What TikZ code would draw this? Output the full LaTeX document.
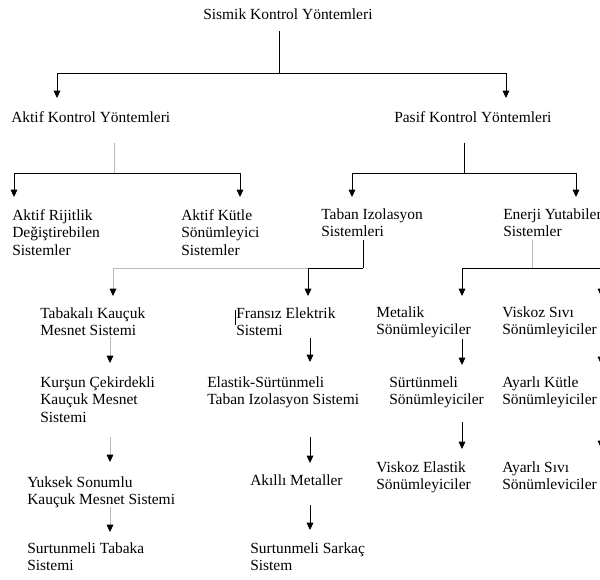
\documentclass[tikz,border=0pt]{standalone}
\usepackage{fontspec}
\setmainfont{Liberation Serif}
\usetikzlibrary{arrows.meta}

\tikzset{
	lbl/.style={inner sep=0pt, anchor=base west, align=left, font=\fontsize{11.6}{13.1}\selectfont},
	lnk/.style={line width=0.6pt},
	arr/.style={lnk, -{Triangle[width=5pt,length=5.5pt,color=black]}},
	faint/.style={draw=gray!55},
}

\begin{document}
\begin{tikzpicture}[x=0.75pt,y=0.75pt,yscale=-1,xscale=1]
	\useasboundingbox (0,0) rectangle (600,579);
	\clip (0,0) rectangle (600,579);
	
	% Text Node (placed at the baseline of the last line)
	\node[lbl] (sismik) at (203,19) {Sismik Kontrol Yöntemleri};
	% Text Node
	\node[lbl] (aktif) at (11,122) {Aktif Kontrol Yöntemleri};
	\node[lbl] (pasif) at (394,122) {Pasif Kontrol Yöntemleri};
	% Text Node
	\node[lbl] (rijit) at (12,255) {Aktif Rijitlik\\Değiştirebilen\\Sistemler};
	\node[lbl] (kutle) at (181,255) {Aktif Kütle\\Sönümleyici\\Sistemler};
	\node[lbl] (taban) at (321,236.5) {Taban Izolasyon\\Sistemleri};
	\node[lbl] (enerji) at (503,236.5) {Enerji Yutabilen\\Sistemler};
	% Text Node
	\node[lbl] (tabakali) at (40,335.5) {Tabakalı Kauçuk\\Mesnet Sistemi};
	\node[lbl] (kursun) at (40,422) {Kurşun Çekirdekli\\Kauçuk Mesnet\\Sistemi};
	\node[lbl] (yuksek) at (27,504.5) {Yuksek Sonumlu\\Kauçuk Mesnet Sistemi};
	\node[lbl] (tabaka) at (27,570.5) {Surtunmeli Tabaka\\Sistemi};
	% Text Node
	\node[lbl] (fransiz) at (236,335.5) {Fransız Elektrik\\Sistemi};
	\node[lbl] (elastik) at (207,404.5) {Elastik-Sürtünmeli\\Taban Izolasyon Sistemi};
	\node[lbl] (akilli) at (250,485) {Akıllı Metaller};
	\node[lbl] (sarkac) at (250,570.5) {Surtunmeli Sarkaç\\Sistem};
	% Text Node
	\node[lbl] (metalik) at (376,334.5) {Metalik\\Sönümleyiciler};
	\node[lbl] (surtunme) at (389,404.5) {Sürtünmeli\\Sönümleyiciler};
	\node[lbl] (viselastik) at (376,489.5) {Viskoz Elastik\\Sönümleyiciler};
	\node[lbl] (vissivi) at (502,334.5) {Viskoz Sıvı\\Sönümleyiciler};
	\node[lbl] (ayarkutle) at (502,404.5) {Ayarlı Kütle\\Sönümleyiciler};
	\node[lbl] (ayarsivi) at (502,489.5) {Ayarlı Sıvı\\Sönümleviciler};
	
	% Junctions and arrow tips
	\coordinate (s-split) at (279,73);
	\coordinate (aktif-in) at (57,98);
	\coordinate (pasif-in) at (506,98);
	\coordinate (a-split) at (114,173);
	\coordinate (rijit-in) at (14,197);
	\coordinate (kutle-in) at (240,197);
	\coordinate (p-split) at (464,173);
	\coordinate (taban-in) at (352,197);
	\coordinate (enerji-in) at (576,197);
	\coordinate (t-split) at (363,268);
	\coordinate (tabakali-in) at (113,296);
	\coordinate (fransiz-in) at (308,296);
	\coordinate (e-split) at (532,268);
	\coordinate (metalik-in) at (462,296);
	\coordinate (vissivi-in) at (601,296);
	\coordinate (kursun-in) at (110,363);
	\coordinate (yuksek-in) at (110,462);
	\coordinate (tabaka-in) at (110,532);
	\coordinate (elastik-in) at (310,362);
	\coordinate (akilli-in) at (310,463);
	\coordinate (sarkac-in) at (310,530);
	\coordinate (surtunme-in) at (462,365);
	\coordinate (viselastik-in) at (462,449);
	\coordinate (ayarkutle-in) at (601,364);
	\coordinate (ayarsivi-in) at (601,448);
	
	%Straight Lines
	\draw[lnk,shorten <=9pt] (sismik.base -| s-split) -- (s-split);
	\draw[arr] (s-split) -| (aktif-in);
	\draw[arr] (s-split) -| (pasif-in);
	\draw[lnk,faint,shorten <=15.5pt] (aktif.base -| a-split) -- (a-split);
	\draw[arr] (a-split) -| (rijit-in);
	\draw[arr] (a-split) -| (kutle-in);
	\draw[lnk,shorten <=15.5pt] (pasif.base -| p-split) -- (p-split);
	\draw[arr] (p-split) -| (taban-in);
	\draw[arr] (p-split) -| (enerji-in);
	\draw[lnk,shorten <=2.6pt] (taban.base -| t-split) -- (t-split);
	\draw[arr,faint] (t-split) -| (tabakali-in);
	\draw[arr] (t-split) -| (fransiz-in);
	\draw[lnk,faint,shorten <=2.6pt] (enerji.base -| e-split) -- (e-split);
	\draw[arr] (e-split) -| (metalik-in);
	\draw[arr] (e-split) -| (vissivi-in);
	
	%Straight Lines
	\draw[arr,faint,shorten <=1.2pt] (tabakali.base -| kursun-in) -- (kursun-in);
	\draw[arr,faint,shorten <=11.2pt] (kursun.base -| yuksek-in) -- (yuksek-in);
	\draw[arr,faint,shorten <=1.9pt] (yuksek.base -| tabaka-in) -- (tabaka-in);
	\draw[arr,shorten <=1.9pt] (fransiz.base -| elastik-in) -- (elastik-in);
	\draw[arr,shorten <=24.4pt] (elastik.base -| akilli-in) -- (akilli-in);
	\draw[arr,shorten <=15pt] (akilli.base -| sarkac-in) -- (sarkac-in);
	\draw[arr,shorten <=3.4pt] (metalik.base -| surtunme-in) -- (surtunme-in);
	\draw[arr,shorten <=13.1pt] (surtunme.base -| viselastik-in) -- (viselastik-in);
	\draw[arr,shorten <=3.4pt] (vissivi.base -| ayarkutle-in) -- (ayarkutle-in);
	\draw[arr,shorten <=13.1pt] (ayarkutle.base -| ayarsivi-in) -- (ayarsivi-in);
	
	% cursor mark
	\draw[line width=0.5pt] ([xshift=-0.5pt,yshift=2pt]fransiz.north west) -- ++(0,15);
\end{tikzpicture}
\end{document}
